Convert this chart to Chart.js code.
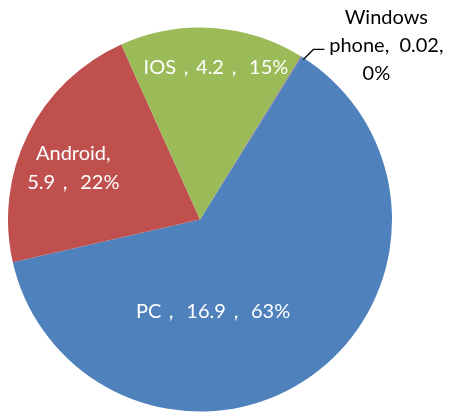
<!DOCTYPE html>
<html>
<head>
<meta charset="utf-8">
<script src="https://cdn.jsdelivr.net/npm/chart.js@4"></script>
<style>
  html, body { margin: 0; padding: 0; background: #fff; }
  #wrap { width: 451px; height: 419px; }
</style>
</head>
<body>
<div id="wrap"><canvas id="pieChart" width="451" height="419"></canvas></div>
<script>
const categories = ['PC', 'Android', 'IOS', 'Windows phone'];
const values = [16.9, 5.9, 4.2, 0.02];
const percents = ['63%', '22%', '15%', '0%'];
const sliceColors = ['#4F81BD', '#C0504D', '#9BBB59', '#8064A2'];

// label lines for each slice
const labelLines = [
    ['PC\uFF0C 16.9\uFF0C 63%'],
    ['Android,', '5.9\uFF0C 22%'],
    ['IOS\uFF0C4.2\uFF0C 15%'],
    ['Windows', 'phone,  0.02,', '0%']
];
// label centre, as a fraction of the radius from the pie centre
const labelOffsets = [[0.068, 0.48], [-0.66, -0.27], [0.083, -0.79]];

// Draw data labels inside slices, and the outside one with a leader line
const sliceLabels = {
    id: 'sliceLabels',
    afterDatasetsDraw(chart) {
        const ctx = chart.ctx;
        const arcs = chart.getDatasetMeta(0).data;
        ctx.save();
        ctx.font = '20px Lato, "Open Sans", sans-serif';
        ctx.textAlign = 'center';
        ctx.textBaseline = 'middle';
        arcs.forEach((arc, i) => {
            const lines = labelLines[i];
            let cx, cy, lh = 29;
            if (i === 3) {
                // outside label
                const mid = (arc.startAngle + arc.endAngle) / 2;
                const ex = arc.x + Math.cos(mid) * arc.outerRadius;
                const ey = arc.y + Math.sin(mid) * arc.outerRadius;
                ctx.strokeStyle = '#000';
                ctx.lineWidth = 1.3;
                ctx.beginPath();
                ctx.moveTo(ex + 2, ey + 3);
                ctx.lineTo(ex + 12, ey - 7);
                ctx.lineTo(ex + 23, ey - 7);
                ctx.stroke();
                cx = ex + 85;
                cy = ey - 11;
                lh = 28;
                ctx.fillStyle = '#000';
            } else {
                cx = arc.x + labelOffsets[i][0] * arc.outerRadius;
                cy = arc.y + labelOffsets[i][1] * arc.outerRadius;
                ctx.fillStyle = '#fff';
            }
            const top = cy - (lines.length - 1) * lh / 2;
            lines.forEach((t, k) => {
                const dx = (i === 3 && k === 2) ? -10 : 0;
                ctx.fillText(t, cx + dx, top + k * lh);
            });
        });
        ctx.restore();
    }
};

new Chart(document.getElementById('pieChart'), {
    type: 'pie',
    data: {
        labels: categories,
        datasets: [{
            data: values,
            backgroundColor: sliceColors,
            borderWidth: 0
        }]
    },
    options: {
        responsive: false,
        animation: false,
        rotation: 32,
        layout: { padding: { left: 8, right: 59, top: 27, bottom: 7 } },
        plugins: {
            legend: { display: false },
            tooltip: { enabled: false }
        }
    },
    plugins: [sliceLabels]
});
</script>
</body>
</html>
